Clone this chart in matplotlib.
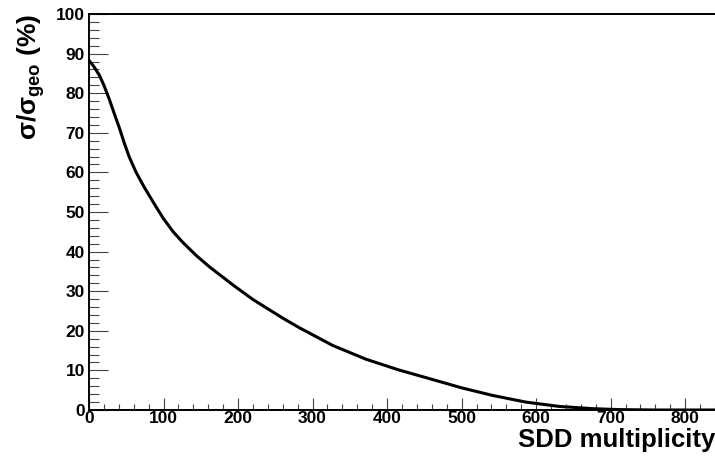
import numpy as np
import matplotlib.pyplot as plt
from matplotlib.ticker import MultipleLocator

plt.rcParams['font.family'] = ['Liberation Sans', 'DejaVu Sans']
plt.rcParams['font.weight'] = 'bold'
plt.rcParams['mathtext.fontset'] = 'custom'
plt.rcParams['mathtext.rm'] = 'Liberation Sans:bold'
plt.rcParams['mathtext.it'] = 'Liberation Sans:bold'
plt.rcParams['mathtext.bf'] = 'Liberation Sans:bold'

# Data
multiplicity = [0, 7, 14, 20, 27, 34, 41, 47, 54, 63, 74, 82, 90, 100, 113,
                126, 144, 162, 193, 220, 260, 282, 327, 372, 416, 461, 500,
                541, 586, 631, 675, 711, 760, 840]
fraction = [88.3, 86.6, 84.5, 82.0, 78.6, 74.8, 71.1, 67.6, 63.9, 60.1, 56.3,
            53.8, 51.3, 48.3, 45.0, 42.3, 39.0, 36.1, 31.6, 27.9, 23.2, 20.8,
            16.3, 12.8, 10.1, 7.7, 5.6, 3.7, 2.0, 0.9, 0.35, 0.1, 0.0, 0.0]

fig = plt.figure(figsize=(7.15, 4.66), dpi=100)
ax = fig.add_axes([89 / 715, 1 - 410 / 466, 1 - 89 / 715, (410 - 14) / 466])

ax.plot(multiplicity, fraction, color='black', lw=2.2,
        solid_capstyle='round', solid_joinstyle='round')

ax.set_xlim(0, 840)
ax.set_ylim(0, 100)

ax.xaxis.set_major_locator(MultipleLocator(100))
ax.xaxis.set_minor_locator(MultipleLocator(20))
ax.yaxis.set_major_locator(MultipleLocator(10))
ax.yaxis.set_minor_locator(MultipleLocator(2))

ax.tick_params(axis='x', which='major', direction='in', length=8.6, width=0.8,
               color='#444444', labelsize=12.5, pad=1)
ax.tick_params(axis='x', which='minor', direction='in', length=4.3, width=0.8,
               color='#444444')
ax.tick_params(axis='y', which='major', direction='in', length=13.7, width=0.8,
               color='#444444', labelsize=12.5, pad=3)
ax.tick_params(axis='y', which='minor', direction='in', length=7.2, width=0.8,
               color='#444444')

for lab in ax.get_xticklabels() + ax.get_yticklabels():
    lab.set_fontweight('bold')

ax.spines['right'].set_visible(False)
for s in ['left', 'bottom', 'top']:
    ax.spines[s].set_linewidth(1.4)

ax.set_xlabel('SDD multiplicity', fontsize=18.5, fontweight='bold', loc='right', labelpad=1)
ax.set_ylabel(r'$\sigma/\sigma_{\rm geo}$ (%)', fontsize=19, fontweight='bold',
              loc='top', labelpad=6)

fig.savefig('out.png', dpi=100)
